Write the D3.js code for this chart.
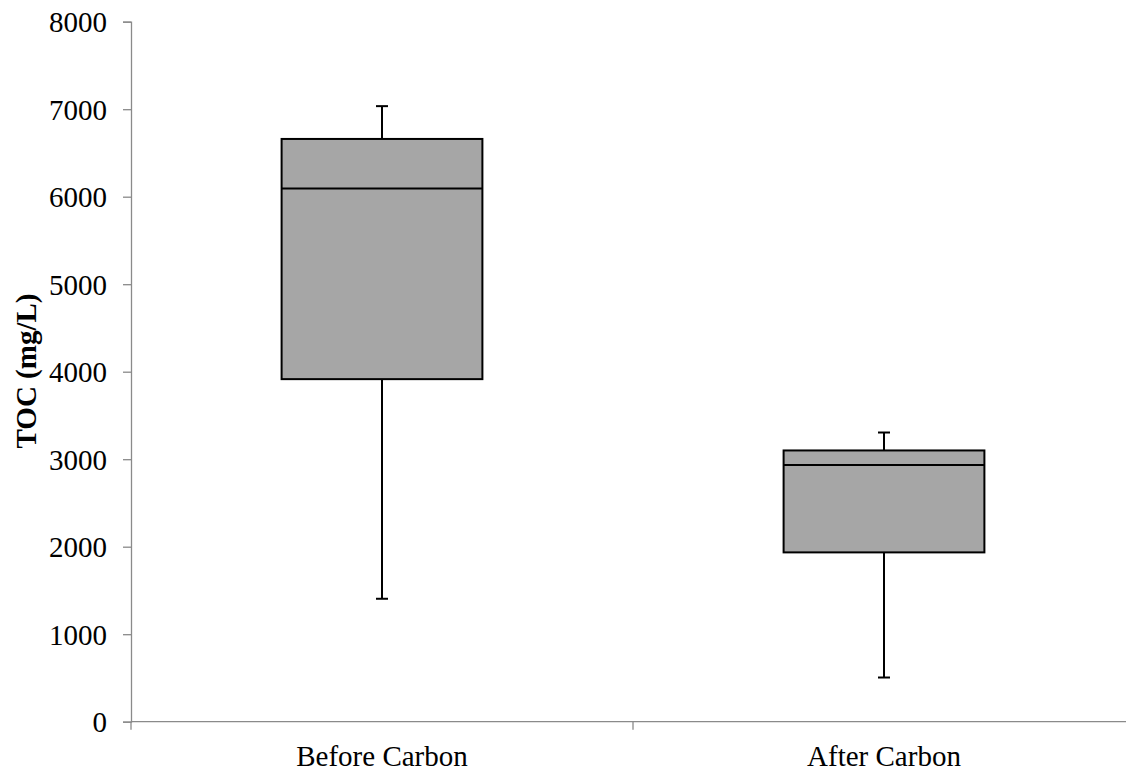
<!DOCTYPE html>
<html>
<head>
<meta charset="utf-8">
<script src="https://cdn.jsdelivr.net/npm/d3@7/dist/d3.min.js"></script>
<style>
  html, body { margin: 0; padding: 0; background: #fff; }
  svg { display: block; }
  text { font-family: "Liberation Serif", "Times New Roman", serif; fill: #000; }
</style>
</head>
<body>
<svg id="chart" width="1126" height="774"></svg>
<script>
// Box plot data: TOC concentration before and after carbon treatment
const categories = ["Before Carbon", "After Carbon"];
const minValues    = [1405, 505];
const q1Values     = [3915, 1935];
const medianValues = [6095, 2935];
const q3Values     = [6660, 3100];
const maxValues    = [7035, 3305];
const yTicks = [0, 1000, 2000, 3000, 4000, 5000, 6000, 7000, 8000];
const yTitle = "TOC (mg/L)";

const svg = d3.select("#chart");
const plotLeft = 131, plotRight = 1135, plotTop = 21.7, plotBottom = 721.7;

const x = d3.scaleBand().domain(categories).range([plotLeft, plotRight]).paddingInner(0).paddingOuter(0);
const y = d3.scaleLinear().domain([0, 8000]).range([plotBottom, plotTop]);

const axisColor = "#8a8a8a";

// Y axis
const yAxis = svg.append("g").attr("transform", `translate(${plotLeft},0)`)
  .call(d3.axisLeft(y).tickValues(yTicks).tickSize(8).tickPadding(16).tickFormat(d3.format("d")));
yAxis.select(".domain").attr("stroke", axisColor).attr("stroke-width", 1.3);
yAxis.selectAll(".tick line").attr("stroke", axisColor).attr("stroke-width", 1.3);
yAxis.selectAll(".tick text")
  .style("font-family", "'Liberation Serif', 'Times New Roman', serif")
  .style("font-size", "29px").attr("fill", "#000").attr("dy", "0.34em");

// X axis line with ticks at category boundaries
const xg = svg.append("g");
xg.append("line").attr("x1", plotLeft).attr("x2", plotRight).attr("y1", plotBottom).attr("y2", plotBottom)
  .attr("stroke", axisColor).attr("stroke-width", 1.3);
const boundaries = categories.map(c => x(c)).concat([x(categories[categories.length - 1]) + x.bandwidth()]);
xg.selectAll("line.tick").data(boundaries).join("line").attr("class", "tick")
  .attr("x1", d => d).attr("x2", d => d).attr("y1", plotBottom).attr("y2", plotBottom + 8)
  .attr("stroke", axisColor).attr("stroke-width", 1.3);
xg.selectAll("text").data(categories).join("text")
  .attr("x", d => x(d) + x.bandwidth() / 2).attr("y", 766)
  .attr("text-anchor", "middle").style("font-size", "29px").text(d => d);

// Y axis title
svg.append("text")
  .attr("transform", "translate(36, 371) rotate(-90)")
  .attr("text-anchor", "middle").style("font-size", "29px").style("font-weight", "bold")
  .text(yTitle);

// Boxes and whiskers
const boxW = x.bandwidth() * 0.4;
const capW = 12;
const boxes = svg.append("g").selectAll("g").data(categories).join("g")
  .attr("transform", d => `translate(${x(d) + x.bandwidth() / 2},0)`);

boxes.append("line").attr("x1", 0).attr("x2", 0)
  .attr("y1", (d, i) => y(maxValues[i])).attr("y2", (d, i) => y(q3Values[i]))
  .attr("stroke", "#000").attr("stroke-width", 2);
boxes.append("line").attr("x1", -capW / 2).attr("x2", capW / 2)
  .attr("y1", (d, i) => y(maxValues[i])).attr("y2", (d, i) => y(maxValues[i]))
  .attr("stroke", "#000").attr("stroke-width", 2);
boxes.append("line").attr("x1", 0).attr("x2", 0)
  .attr("y1", (d, i) => y(q1Values[i])).attr("y2", (d, i) => y(minValues[i]))
  .attr("stroke", "#000").attr("stroke-width", 2);
boxes.append("line").attr("x1", -capW / 2).attr("x2", capW / 2)
  .attr("y1", (d, i) => y(minValues[i])).attr("y2", (d, i) => y(minValues[i]))
  .attr("stroke", "#000").attr("stroke-width", 2);
boxes.append("rect").attr("x", -boxW / 2).attr("width", boxW)
  .attr("y", (d, i) => y(q3Values[i]))
  .attr("height", (d, i) => y(q1Values[i]) - y(q3Values[i]))
  .attr("fill", "#a6a6a6").attr("stroke", "#000").attr("stroke-width", 2);
boxes.append("line").attr("x1", -boxW / 2).attr("x2", boxW / 2)
  .attr("y1", (d, i) => y(medianValues[i])).attr("y2", (d, i) => y(medianValues[i]))
  .attr("stroke", "#000").attr("stroke-width", 2);
</script>
</body>
</html>
